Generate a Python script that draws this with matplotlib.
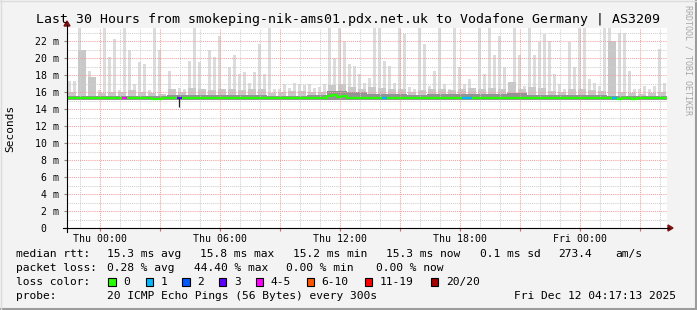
import numpy as np
import matplotlib
matplotlib.use("Agg")
import matplotlib.pyplot as plt
from matplotlib.lines import Line2D
from matplotlib.patches import Rectangle, Polygon

W, H = 697, 310
MONO = "DejaVu Sans Mono"

# time axis in hours relative to Thu 00:00, 15 minute bins
T_START = -1.65
SPAN_H = 30.0

title = "Last 30 Hours from smokeping-nik-ams01.pdx.net.uk to Vodafone Germany | AS3209"

# upper edge of the light smoke (ms), one value per 15 min
smoke_max = [
    17.3, 17.3, 24.0, 17.5, 18.5, 16.7, 16.2, 24.0, 20.1, 22.2,
    16.2, 24.0, 20.9, 16.9, 19.5, 19.3, 16.2, 24.0, 21.0, 15.8,
    18.5, 16.4, 16.5, 16.4, 19.7, 24.0, 19.5, 16.4, 20.9, 20.1,
    22.6, 16.2, 18.9, 20.3, 18.1, 18.3, 17.1, 18.3, 21.7, 18.1,
    24.0, 16.4, 16.3, 16.9, 16.5, 17.1, 17.0, 16.8, 16.9, 16.5,
    16.6, 17.0, 24.0, 20.0, 24.0, 22.0, 19.3, 19.1, 18.1, 17.1,
    17.6, 24.0, 24.0, 19.7, 19.1, 17.1, 24.0, 22.8, 16.6, 16.4,
    24.0, 21.7, 16.7, 18.5, 24.0, 16.9, 16.4, 24.0, 18.9, 16.9,
    17.5, 16.5, 24.0, 18.1, 24.0, 20.3, 22.6, 18.9, 16.6, 24.0,
    20.3, 16.7, 24.0, 20.3, 21.9, 22.8, 22.0, 18.1, 16.9, 16.4,
    21.9, 18.9, 24.0, 24.0, 17.5, 17.1, 16.7, 24.0, 24.0, 16.7,
    23.0, 23.0, 18.5, 16.4, 16.4, 16.7, 16.3, 16.7, 21.1, 17.1,
]

# medium smoke, one value per 30 min
smoke_mid = [
    16.0, 21.0, 17.8, 15.9, 16.0, 16.0, 16.2, 16.0, 15.9, 15.8,
    16.3, 16.0, 16.5, 16.3, 16.2, 16.4, 16.3, 16.2, 16.4, 16.3,
    15.9, 16.0, 16.1, 16.1, 16.0, 16.0, 16.8, 17.0, 16.6, 16.4,
    16.6, 16.5, 16.3, 16.4, 16.0, 16.2, 16.3, 16.4, 16.2, 16.4,
    16.5, 16.4, 16.5, 16.3, 17.2, 16.3, 16.6, 16.5, 16.1, 16.0,
    16.3, 16.4, 16.2, 16.1, 22.0, 16.0, 15.9, 15.8, 15.9, 16.0,
]

# dark smoke near the median, one value per hour
smoke_core = [
    15.5, 15.5, 15.5, 15.5, 15.5, 15.6, 15.7, 15.7, 15.7, 15.6,
    15.5, 15.5, 15.6, 16.1, 16.0, 15.8, 15.8, 15.7, 15.8, 15.8,
    15.8, 15.8, 15.9, 15.7, 15.6, 15.7, 15.6, 15.5, 15.5, 15.5,
]
SMOKE_FLOOR = 15.1

# median rtt (ms), one value per 15 min
median_rtt = [
    15.35, 15.35, 15.35, 15.35, 15.35, 15.35, 15.35, 15.35, 15.35, 15.35,
    15.35, 15.35, 15.35, 15.35, 15.35, 15.35, 15.35, 15.20, 15.20, 15.35,
    15.35, 15.35, 15.35, 15.25, 15.35, 15.35, 15.35, 15.35, 15.35, 15.35,
    15.35, 15.35, 15.35, 15.35, 15.35, 15.35, 15.35, 15.35, 15.35, 15.35,
    15.35, 15.35, 15.35, 15.35, 15.35, 15.35, 15.35, 15.35, 15.35, 15.35,
    15.35, 15.35, 15.50, 15.60, 15.45, 15.55, 15.35, 15.35, 15.35, 15.35,
    15.35, 15.35, 15.35, 15.35, 15.35, 15.35, 15.35, 15.35, 15.35, 15.35,
    15.35, 15.35, 15.35, 15.35, 15.35, 15.35, 15.35, 15.35, 15.35, 15.35,
    15.35, 15.35, 15.35, 15.35, 15.35, 15.35, 15.35, 15.35, 15.35, 15.35,
    15.35, 15.35, 15.35, 15.35, 15.35, 15.35, 15.35, 15.35, 15.35, 15.35,
    15.35, 15.35, 15.35, 15.35, 15.35, 15.35, 15.35, 15.35, 15.35, 15.30,
    15.20, 15.25, 15.30, 15.15, 15.30, 15.35, 15.35, 15.35, 15.35, 15.35,
]

# bins with lost pings and how many were lost
loss_bins = [11, 22, 63, 79, 80, 109]
loss_vals = [4, 3, 1, 1, 1, 1]

# short drop of the median
drop_bin = 22
drop_value = 14.2

loss_labels = ["0", "1", "2", "3", "4-5", "6-10", "11-19", "20/20"]
loss_colors = ["#26ff00", "#00b8ff", "#0059ff", "#5e00ff",
               "#ff00ff", "#ff5500", "#ff0000", "#a10000"]
loss_upper = [0, 1, 2, 3, 5, 10, 19, 20]

y_ticks = [0, 2, 4, 6, 8, 10, 12, 14, 16, 18, 20, 22]
x_ticks = [0, 3, 6, 9, 12, 15, 18, 21, 24, 27]
x_labels = ["Thu 00:00", "", "Thu 06:00", "", "Thu 12:00", "",
            "Thu 18:00", "", "Fri 00:00", ""]

stats_rtt = ["median rtt:", "15.3 ms avg", "15.8 ms max", "15.2 ms min",
             "15.3 ms now", "0.1 ms sd", "273.4", "am/s"]
stats_loss = ["packet loss:", "0.28 % avg", "44.40 % max", "0.00 % min",
              "0.00 % now"]
probe_text = ["probe:", "20 ICMP Echo Pings (56 Bytes) every 300s",
              "Fri Dec 12 04:17:13 2025"]


def fx(px):
    return px / W


def fy(py):
    return 1 - py / H


def loss_color(n):
    for up, c in zip(loss_upper, loss_colors):
        if n <= up:
            return c
    return loss_colors[-1]


fig = plt.figure(figsize=(W / 100, H / 100), dpi=100, facecolor="#f3f3f3")
ax = fig.add_axes([fx(67), fy(228), 600 / W, 200 / H])
ax.set_facecolor("white")
ax.set_xlim(T_START, T_START + SPAN_H)
ax.set_ylim(0, 200 / 8.5)
for s in ax.spines.values():
    s.set_visible(False)

# smoke layers (value list, colour, share of the bin that is filled)
for vals, col, frac in [(smoke_max, "#dcdcdc", 0.7),
                        (smoke_mid, "#c8c8c8", 0.8),
                        (smoke_core, "#939393", 1.0)]:
    w = SPAN_H / len(vals)
    left = T_START + w * np.arange(len(vals)) + w * (1 - frac) / 2
    top = np.array(vals)
    ax.bar(left, top - SMOKE_FLOOR, bottom=SMOKE_FLOOR, width=w * frac,
           align="edge", color=col, linewidth=0, zorder=1)

# grid on top of the smoke, like rrdtool
dash = (0, (1, 1))
for h in np.arange(-1, 29, 1):
    if h % 3 != 0:
        ax.axvline(h, color="#cfcfcf", lw=0.75, ls=dash, zorder=2)
for v in np.arange(1, 24, 2):
    ax.axhline(v, color="#cfcfcf", lw=0.75, ls=dash, zorder=2)
for h in x_ticks:
    ax.axvline(h, color="#f4a0a0", lw=0.75, ls=dash, zorder=3)
for v in y_ticks[1:]:
    ax.axhline(v, color="#f4a0a0", lw=0.75, ls=dash, zorder=3)

# median line coloured by loss
bw = SPAN_H / len(median_rtt)
edges = T_START + bw * np.arange(len(median_rtt) + 1)
med = np.array(median_rtt + [median_rtt[-1]])
ax.step(edges, med, where="post", color=loss_colors[0], lw=1.6, zorder=4,
        solid_capstyle="butt")
for b, n in zip(loss_bins, loss_vals):
    ax.hlines(median_rtt[b], edges[b], edges[b + 1], color=loss_color(n),
              lw=1.6, zorder=5)
ax.vlines(edges[drop_bin] + 0.12, drop_value, median_rtt[drop_bin],
          color="#222222", lw=0.9, zorder=5)

# ticks
ax.set_yticks(y_ticks)
ax.set_yticklabels([f"{v} m" if v else "0  " for v in y_ticks])
ax.set_xticks(x_ticks)
ax.set_xticklabels(x_labels)
ax.tick_params(axis="y", length=2, width=0.8, color="#888888", pad=3.6,
               labelsize=7.1, labelfontfamily=MONO)
ax.tick_params(axis="x", length=2, width=0.8, color="#e06060", pad=2.2,
               labelsize=7.1, labelfontfamily=MONO)

# axis lines with arrows
fig.add_artist(Line2D([fx(63), fx(669)], [fy(228), fy(228)], color="black",
                      lw=0.8))
fig.add_artist(Line2D([fx(67), fx(67)], [fy(232), fy(25)], color="black",
                      lw=0.8))
fig.add_artist(Polygon([(fx(668), fy(225)), (fx(668), fy(231)),
                        (fx(673), fy(228))], closed=True, color="#7a1010"))
fig.add_artist(Polygon([(fx(64), fy(26)), (fx(70), fy(26)),
                        (fx(67), fy(21))], closed=True, color="#7a1010"))

# texts
fig.text(fx(348), fy(19), title, ha="center", va="center", fontsize=9.5,
         family=MONO)
fig.text(fx(10), fy(128), "Seconds", ha="center", va="center", rotation=90,
         fontsize=8, family=MONO)
fig.text(fx(688), fy(5), "RRDTOOL / TOBI OETIKER", ha="center", va="top",
         rotation=270, fontsize=6, family=MONO, color="#a8a8a8")

fs = 8.1
rtt_x = [16, 107, 200.5, 293, 386, 479.5, 558.5, 615]
for t, x in zip(stats_rtt, rtt_x):
    fig.text(fx(x), fy(254), t, va="center", fontsize=fs, family=MONO)
loss_x = [16, 107, 194, 286.5, 376.5]
for t, x in zip(stats_loss, loss_x):
    fig.text(fx(x), fy(268), t, va="center", fontsize=fs, family=MONO)
fig.text(fx(16), fy(282), "loss color:", va="center", fontsize=fs, family=MONO)
box_x = [108.3, 145.7, 182.3, 219, 255.7, 306.7, 365, 430.7]
for lab, col, x in zip(loss_labels, loss_colors, box_x):
    fig.add_artist(Rectangle((fx(x), fy(286)), 7.3 / W, 7.7 / H,
                             facecolor=col, edgecolor="black", lw=0.8))
    fig.text(fx(x + 15), fy(282), lab, va="center", fontsize=fs, family=MONO)
probe_x = [16, 107, 513.5]
for t, x in zip(probe_text, probe_x):
    fig.text(fx(x), fy(296), t, va="center", fontsize=fs, family=MONO)

# frame around the canvas
fig.add_artist(Line2D([fx(0.5), fx(696)], [fy(309), fy(309)], color="#9c9c9c",
                      lw=1.5))
fig.add_artist(Line2D([fx(696), fx(696)], [fy(309), fy(0.5)], color="#9c9c9c",
                      lw=1.5))
fig.add_artist(Line2D([fx(0), fx(696)], [fy(0.5), fy(0.5)], color="#dcdcdc",
                      lw=1))
fig.add_artist(Line2D([fx(0.5), fx(0.5)], [fy(0), fy(309)], color="#dcdcdc",
                      lw=1))

fig.savefig("out.png", dpi=100, facecolor=fig.get_facecolor())
